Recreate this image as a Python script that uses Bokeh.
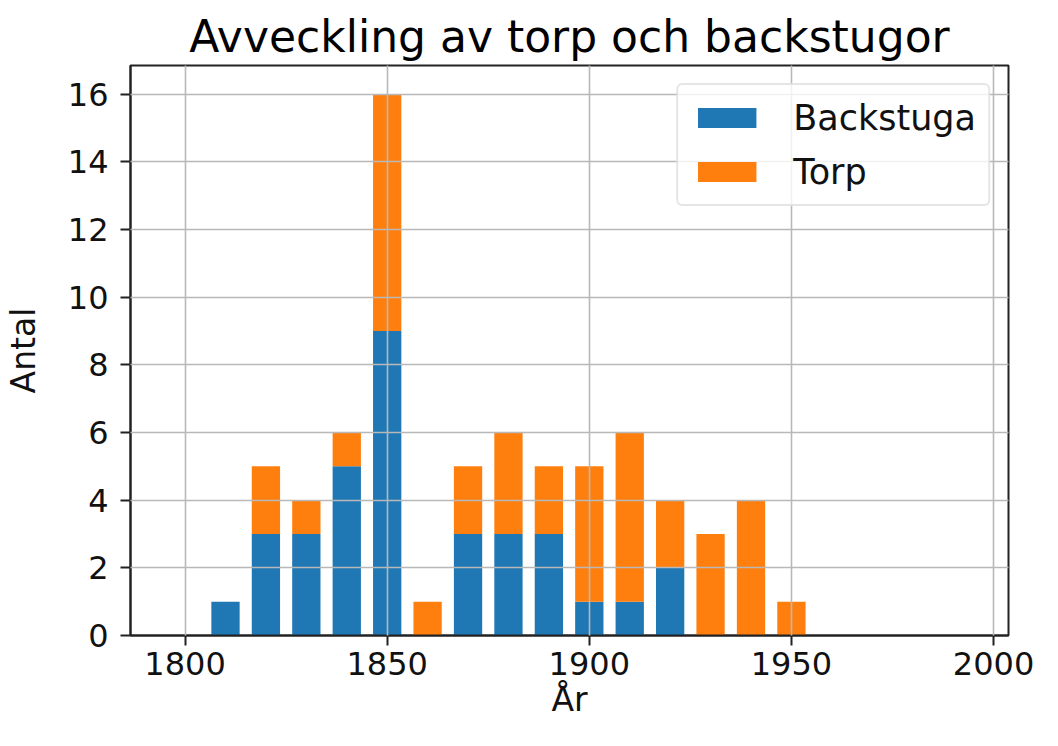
from bokeh.plotting import figure
from bokeh.models import ColumnDataSource, Range1d, FixedTicker
from bokeh.embed import file_html
from bokeh.resources import INLINE

# ---- data ----
years = [1810, 1820, 1830, 1840, 1850, 1860, 1870, 1880, 1890, 1900, 1910, 1920, 1930, 1940, 1950]
backstuga = [1, 3, 3, 5, 9, 0, 3, 3, 3, 1, 1, 2, 0, 0, 0]
torp = [0, 2, 1, 1, 7, 1, 2, 3, 2, 4, 5, 2, 3, 4, 1]
series = ["Backstuga", "Torp"]
x_ticks = [1800, 1850, 1900, 1950, 2000]
y_ticks = [0, 2, 4, 6, 8, 10, 12, 14, 16]
title_text = "Avveckling av torp och backstugor"
x_label = "År"
y_label = "Antal"

colors = ["#1f77b4", "#ff7f0e"]
FONT = "DejaVu Sans"

x0, x1 = 1786.5, 2003.7
y0, y1 = 0, 16.85

src = ColumnDataSource(data={"x": years, "Backstuga": backstuga, "Torp": torp})

p = figure(width=1042, height=730, output_backend="svg", toolbar_location=None,
           x_range=Range1d(x0, x1), y_range=Range1d(y0, y1),
           min_border_left=130, min_border_right=34, min_border_top=65, min_border_bottom=95,
           title=title_text)

p.vbar_stack(series, x="x", width=7, source=src, color=colors, legend_label=series, line_width=0)

# title
p.title.text_font = FONT
p.title.text_font_size = "44px"
p.title.text_font_style = "normal"
p.title.text_color = "black"
p.title.align = "center"
p.title.standoff = 8

# axes
for ax in (p.xaxis[0], p.yaxis[0]):
    ax.axis_line_color = "#222222"
    ax.axis_line_width = 2
    ax.major_tick_line_color = "#222222"
    ax.major_tick_line_width = 2
    ax.major_tick_out = 10
    ax.major_tick_in = 0
    ax.minor_tick_line_color = None
    ax.major_label_text_font = FONT
    ax.major_label_text_font_size = "32px"
    ax.major_label_text_color = "#111111"
    ax.axis_label_text_font = FONT
    ax.axis_label_text_font_size = "33px"
    ax.axis_label_text_font_style = "normal"
    ax.axis_label_text_color = "#111111"

p.xaxis[0].ticker = FixedTicker(ticks=x_ticks)
p.yaxis[0].ticker = FixedTicker(ticks=y_ticks)
p.xaxis[0].major_label_standoff = 6
p.yaxis[0].major_label_standoff = 12

p.yaxis[0].axis_label = y_label
p.yaxis[0].axis_label_standoff = 22
p.xaxis[0].axis_label = x_label
p.xaxis[0].axis_label_standoff = 2

# frame
p.outline_line_color = "#222222"
p.outline_line_width = 2

# grid above bars
for g in (p.xgrid[0], p.ygrid[0]):
    g.grid_line_color = "#b8b8b8"
    g.grid_line_width = 1.6
    g.level = "guide"
p.xgrid[0].ticker = FixedTicker(ticks=x_ticks)
p.ygrid[0].ticker = FixedTicker(ticks=y_ticks)

# legend
lg = p.legend[0]
lg.location = "top_right"
lg.margin = 18
lg.padding = 12
lg.spacing = 13
lg.glyph_width = 73
lg.glyph_height = 25
lg.label_height = 41
lg.label_standoff = 30
lg.label_text_font = FONT
lg.label_text_font_size = "35px"
lg.label_text_color = "#111111"
lg.border_line_color = "#cccccc"
lg.border_line_width = 2
lg.background_fill_alpha = 0.8
try:
    lg.border_radius = 6
except Exception:
    pass

open("out.html", "w").write(file_html(p, INLINE))
